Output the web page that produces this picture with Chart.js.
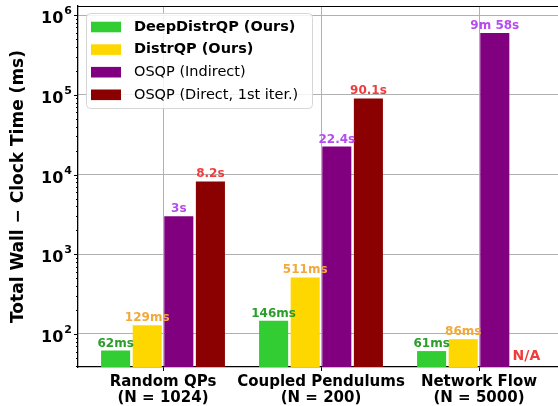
<!DOCTYPE html>
<html>
<head>
<meta charset="utf-8">
<script src="https://cdn.jsdelivr.net/npm/chart.js@4.4.1/dist/chart.umd.min.js"></script>
<style>
  html, body { margin: 0; padding: 0; background: #fff; }
</style>
</head>
<body>
<canvas id="myChart" width="558" height="406"></canvas>
<script>
// categorias y tamaños de problema (segunda linea de la etiqueta)
const categories = ['Random QPs', 'Coupled Pendulums', 'Network Flow'];
const problemSizes = ['(N = 1024)', '(N = 200)', '(N = 5000)'];

const seriesNames = ['DeepDistrQP (Ours)', 'DistrQP (Ours)', 'OSQP (Indirect)', 'OSQP (Direct, 1st iter.)'];

// tiempos en ms
const deepDistrQP = [62, 146, 61];
const distrQP = [129, 511, 86];
const osqpIndirect = [3000, 22400, 598000];
const osqpDirect = [8200, 90100, null]; // N/A en Network Flow

// textos sobre las barras
const deepLabels = ['62ms', '146ms', '61ms'];
const distrLabels = ['129ms', '511ms', '86ms'];
const indirectLabels = ['3s', '22.4s', '9m 58s'];
const directLabels = ['8.2s', '90.1s', 'N/A'];

const yTicks = [100, 1000, 10000, 100000, 1000000];

const FONT = "'DejaVu Sans', sans-serif";
const barColors = ['#32cd32', '#ffd700', '#800080', '#8b0000'];
const labelColors = ['#2a9d2a', '#f2a93b', '#b54cf0', '#f03c3c'];
const boldLegend = [true, true, false, false];

const allValues = [deepDistrQP, distrQP, osqpIndirect, osqpDirect];
const allLabels = [deepLabels, distrLabels, indirectLabels, directLabels];

const data = {
  datasets: allValues.map((vals, i) => ({
    label: seriesNames[i],
    data: vals.map((v, j) => ({ x: j, y: v })),
    backgroundColor: barColors[i],
    borderWidth: 0,
    categoryPercentage: 0.8,
    barPercentage: 0.92,
  }))
};

// etiquetas de valor encima de cada barra
const valueLabels = {
  id: 'valueLabels',
  afterDatasetsDraw(chart) {
    const ctx = chart.ctx;
    const yScale = chart.scales.y;
    ctx.save();
    ctx.textAlign = 'center';
    allValues.forEach((vals, i) => {
      const meta = chart.getDatasetMeta(i);
      vals.forEach((v, j) => {
        const el = meta.data[j];
        if (!el) return;
        ctx.fillStyle = labelColors[i];
        if (v === null) {
          ctx.textBaseline = 'middle';
          ctx.font = `bold 14px ${FONT}`;
          ctx.fillText(allLabels[i][j], el.x, yScale.bottom - 11);
        } else {
          ctx.textBaseline = 'alphabetic';
          ctx.font = `bold 12px ${FONT}`;
          ctx.fillText(allLabels[i][j], el.x, el.y - 4);
        }
      });
    });
    ctx.restore();
  }
};

// eje y: etiquetas 10^k, marcas menores y borde superior
const logAxisDecor = {
  id: 'logAxisDecor',
  afterDraw(chart) {
    const ctx = chart.ctx;
    const y = chart.scales.y;
    const area = chart.chartArea;
    ctx.save();
    ctx.strokeStyle = '#000';
    ctx.lineWidth = 1;
    // marcas
    for (let k = 1; k <= 6; k++) {
      for (let m = 1; m <= 9; m++) {
        const v = m * Math.pow(10, k);
        if (v < y.min || v > y.max) continue;
        const py = Math.round(y.getPixelForValue(v)) + 0.5;
        const len = m === 1 ? 4 : 2;
        ctx.beginPath();
        ctx.moveTo(area.left - len, py);
        ctx.lineTo(area.left, py);
        ctx.stroke();
      }
    }
    // borde superior
    ctx.beginPath();
    ctx.moveTo(area.left, area.top + 0.5);
    ctx.lineTo(area.right, area.top + 0.5);
    ctx.stroke();

    // etiquetas
    ctx.fillStyle = '#000';
    ctx.textBaseline = 'alphabetic';
    ctx.textAlign = 'left';
    yTicks.forEach(v => {
      const py = y.getPixelForValue(v);
      const exp = String(Math.round(Math.log10(v)));
      ctx.font = `bold 11px ${FONT}`;
      const supW = ctx.measureText(exp).width;
      ctx.font = `bold 16px ${FONT}`;
      const baseW = ctx.measureText('10').width;
      const x0 = area.left - 7 - supW - baseW;
      ctx.fillText('10', x0, py + 8);
      ctx.font = `bold 11px ${FONT}`;
      ctx.fillText(exp, x0 + baseW + 1, py - 1);
    });
    ctx.restore();
  }
};

// leyenda dentro del area del grafico
const insideLegend = {
  id: 'insideLegend',
  afterDraw(chart) {
    const ctx = chart.ctx;
    const bx = 86, by = 13, bw = 226, bh = 95;
    ctx.save();
    ctx.beginPath();
    ctx.roundRect(bx + 0.5, by + 0.5, bw, bh, 4);
    ctx.fillStyle = 'rgba(255,255,255,0.85)';
    ctx.fill();
    ctx.strokeStyle = '#d6d6d6';
    ctx.lineWidth = 1;
    ctx.stroke();
    ctx.textBaseline = 'middle';
    ctx.textAlign = 'left';
    seriesNames.forEach((name, i) => {
      const cy = 27 + i * 22.6;
      ctx.fillStyle = barColors[i];
      ctx.fillRect(91, cy - 5.3, 30, 10.6);
      ctx.fillStyle = '#000';
      ctx.font = `${boldLegend[i] ? 'bold ' : ''}14.5px ${FONT}`;
      ctx.fillText(name, 134, cy);
    });
    ctx.restore();
  }
};

const myChart = new Chart(document.getElementById('myChart').getContext('2d'), {
  type: 'bar',
  data: data,
  options: {
    responsive: false,
    animation: false,
    layout: { padding: { top: 6, right: 0, left: 0, bottom: 0 } },
    plugins: {
      legend: { display: false },
      tooltip: { enabled: false }
    },
    scales: {
      x: {
        type: 'linear',
        offset: false,
        min: -0.538,
        max: 2.5,
        afterBuildTicks: (scale) => { scale.ticks = [0, 1, 2].map(v => ({ value: v })); },
        afterFit: (scale) => { scale.height = 39; },
        grid: {
          offset: false,
          color: '#b0b0b0',
          lineWidth: 1,
          tickLength: 4,
          tickColor: '#000',
          tickWidth: 1,
        },
        border: { color: '#000', width: 1.3 },
        ticks: {
          padding: 3,
          color: '#000',
          maxRotation: 0,
          autoSkip: false,
          font: { family: FONT, size: 15, weight: 'bold', lineHeight: 1.067 },
          callback: (v) => [categories[v], problemSizes[v]],
        }
      },
      y: {
        type: 'logarithmic',
        min: 38.5,
        max: 1.3e6,
        afterBuildTicks: (scale) => { scale.ticks = yTicks.map(v => ({ value: v })); },
        afterFit: (scale) => { scale.width = 78; },
        grid: {
          color: '#b0b0b0',
          lineWidth: 1,
          drawTicks: false,
        },
        border: { color: '#000', width: 1.3 },
        ticks: { display: false },
        title: {
          display: true,
          text: 'Total Wall \u2212 Clock Time (ms)',
          color: '#000',
          font: { family: FONT, size: 17, weight: 'bold' },
          padding: { top: 8, bottom: 0 },
        }
      }
    }
  },
  plugins: [valueLabels, logAxisDecor, insideLegend]
});
</script>
</body>
</html>
